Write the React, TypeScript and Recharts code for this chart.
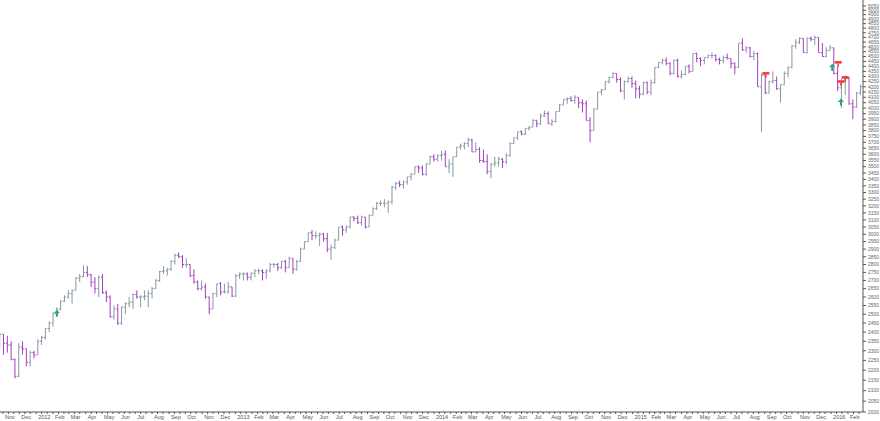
import React from "react";
import { ComposedChart, Bar, Scatter, XAxis, YAxis } from "recharts";

const day = (y: number, m: number, d: number) => Date.UTC(y, m - 1, d) / 86400000;

// weekly bars, first one is the week starting Mon 24 Oct 2011
const FIRST_WEEK = day(2011, 10, 24);
const FIRST_OPEN = 2320;

const highs = [
  // 2011
  2400, 2370, 2380, 2350, 2260, 2340, 2350, 2310, 2300, 2300,
  // 2012
  2360, 2380, 2420, 2460, 2510, 2540, 2580, 2610, 2640, 2645, 2720, 2740, 2795, 2790, 2740, 2720, 2730, 2740,
  2640, 2610, 2550, 2560, 2545, 2570, 2600, 2620, 2640, 2610, 2640, 2640, 2660, 2710, 2760, 2790, 2780, 2830,
  2870, 2878, 2860, 2840, 2800, 2770, 2700, 2700, 2680, 2600, 2625, 2680, 2690, 2680, 2690, 2660,
  // 2013
  2740, 2750, 2750, 2750, 2750, 2770, 2775, 2770, 2770, 2810, 2810, 2810, 2820, 2830, 2850, 2830, 2830, 2910,
  2950, 3010, 3030, 3020, 3010, 3010, 3010, 2930, 2970, 3050, 3060, 3060, 3120, 3125, 3130, 3130, 3120, 3140,
  3190, 3230, 3240, 3250, 3240, 3350, 3380, 3390, 3390, 3420, 3450, 3500, 3510, 3510, 3530, 3590,
  // 2014
  3600, 3600, 3630, 3630, 3560, 3580, 3660, 3690, 3700, 3738, 3730, 3700, 3660, 3640, 3600, 3530, 3580, 3580,
  3570, 3610, 3700, 3740, 3790, 3800, 3820, 3840, 3900, 3890, 3950, 3980, 3970, 3900, 3970, 4040, 4080, 4100,
  4110, 4120, 4100, 4080, 4070, 3920, 4000, 4150, 4180, 4250, 4300, 4340, 4330, 4290, 4260, 4300,
  // 2015
  4300, 4260, 4210, 4250, 4250, 4270, 4390, 4440, 4480, 4490, 4440, 4470, 4480, 4360, 4400, 4420, 4530, 4540,
  4490, 4490, 4520, 4540, 4520, 4490, 4510, 4530, 4470, 4440, 4640, 4690, 4610, 4600, 4560, 4540, 4330, 4300,
  4260, 4350, 4300, 4220, 4350, 4400, 4620, 4680, 4700, 4680, 4700, 4710, 4720, 4700, 4640, 4600, 4620,
  // 2016
  4560, 4400, 4280, 4310, 4290, 4080, 4150, 4220,
];

const lows = [
  // 2011
  2310, 2280, 2290, 2250, 2160, 2165, 2280, 2220, 2220, 2260,
  // 2012
  2290, 2330, 2360, 2400, 2430, 2490, 2520, 2570, 2590, 2560, 2640, 2690, 2720, 2720, 2660, 2620, 2600, 2620,
  2570, 2480, 2470, 2440, 2440, 2500, 2540, 2530, 2590, 2540, 2580, 2540, 2590, 2650, 2690, 2740, 2730, 2760,
  2800, 2840, 2780, 2780, 2720, 2680, 2640, 2640, 2590, 2500, 2530, 2600, 2610, 2620, 2620, 2600,
  // 2013
  2600, 2710, 2700, 2700, 2700, 2720, 2740, 2700, 2710, 2750, 2780, 2760, 2770, 2750, 2780, 2740, 2760, 2820,
  2900, 2950, 2960, 2970, 2920, 2950, 2880, 2830, 2900, 2960, 2990, 3010, 3040, 3090, 3070, 3060, 3040, 3060,
  3130, 3170, 3200, 3190, 3150, 3210, 3320, 3340, 3330, 3360, 3390, 3440, 3450, 3430, 3430, 3520,
  // 2014
  3540, 3540, 3550, 3500, 3450, 3420, 3580, 3640, 3640, 3660, 3620, 3620, 3530, 3530, 3440, 3410, 3500, 3500,
  3490, 3520, 3580, 3690, 3720, 3760, 3760, 3800, 3830, 3830, 3850, 3920, 3860, 3840, 3870, 3970, 4040, 4040,
  4060, 4040, 4000, 3960, 3890, 3700, 3820, 3990, 4120, 4170, 4230, 4280, 4240, 4150, 4080, 4240,
  // 2015
  4190, 4090, 4090, 4120, 4130, 4120, 4230, 4380, 4420, 4410, 4310, 4320, 4290, 4280, 4310, 4330, 4370, 4440,
  4400, 4420, 4480, 4480, 4450, 4420, 4430, 4470, 4380, 4320, 4400, 4560, 4540, 4490, 4460, 4200, 3787, 4130,
  4140, 4230, 4170, 4050, 4220, 4290, 4380, 4580, 4630, 4540, 4530, 4660, 4620, 4540, 4500, 4490, 4560,
  // 2016
  4320, 4160, 4000, 4120, 4030, 3900, 4000, 4120,
];

const closes = [
  // 2011
  2388, 2340, 2330, 2255, 2170, 2320, 2310, 2240, 2290, 2278,
  // 2012
  2350, 2370, 2420, 2450, 2505, 2530, 2575, 2600, 2620, 2640, 2715, 2725, 2750, 2735, 2690, 2650, 2720, 2625,
  2600, 2485, 2530, 2450, 2540, 2560, 2570, 2615, 2600, 2600, 2605, 2620, 2650, 2700, 2755, 2760, 2770, 2820,
  2860, 2850, 2800, 2800, 2730, 2690, 2650, 2660, 2600, 2530, 2620, 2680, 2630, 2630, 2660, 2605,
  // 2013
  2730, 2740, 2740, 2720, 2745, 2760, 2760, 2750, 2760, 2800, 2800, 2780, 2820, 2780, 2840, 2770, 2820, 2900,
  2950, 3010, 2990, 2990, 3000, 2970, 2900, 2910, 2960, 3050, 3030, 3050, 3120, 3110, 3080, 3120, 3050, 3130,
  3180, 3220, 3220, 3220, 3230, 3340, 3370, 3360, 3380, 3420, 3440, 3500, 3490, 3440, 3520, 3580,
  // 2014
  3560, 3590, 3600, 3500, 3520, 3580, 3660, 3670, 3690, 3720, 3620, 3640, 3550, 3540, 3460, 3520, 3530, 3560,
  3540, 3590, 3690, 3740, 3790, 3770, 3820, 3830, 3890, 3860, 3930, 3950, 3860, 3880, 3970, 4030, 4080, 4090,
  4070, 4100, 4050, 4040, 3890, 3800, 3990, 4150, 4170, 4250, 4290, 4330, 4270, 4160, 4250, 4280,
  // 2015
  4230, 4180, 4130, 4240, 4150, 4240, 4390, 4440, 4460, 4430, 4330, 4460, 4300, 4320, 4400, 4350, 4530, 4480,
  4460, 4490, 4510, 4510, 4470, 4460, 4490, 4480, 4430, 4390, 4640, 4570, 4590, 4500, 4530, 4200, 4310, 4140,
  4250, 4260, 4180, 4220, 4330, 4390, 4610, 4650, 4690, 4540, 4690, 4680, 4700, 4540, 4500, 4560, 4590,
  // 2016
  4330, 4190, 4250, 4280, 4040, 4010, 4140, 4200,
];

const buySignals = [
  { t: day(2012, 2, 8), v: 2506 },
  { t: day(2016, 1, 3), v: 4390 },
  { t: day(2016, 1, 19), v: 4056 },
];
const sellSignals = [
  { t: day(2015, 9, 3), v: 4323 },
  { t: day(2016, 1, 14), v: 4433 },
  { t: day(2016, 1, 19), v: 4243 },
  { t: day(2016, 1, 27), v: 4283 },
];

const MONTH_NAMES = ["Jan", "Feb", "Mar", "Apr", "May", "Jun", "Jul", "Aug", "Sep", "Oct", "Nov", "Dec"];

const X_MIN = day(2011, 10, 26) + 0.5;
const X_MAX = day(2016, 2, 28) + 0.6;

const monthLabels = new Map<number, string>();
const xTicks: number[] = [];
for (let i = 0; i < 52; i++) {
  const y = 2011 + Math.floor((10 + i) / 12);
  const m = (10 + i) % 12;
  const t = Date.UTC(y, m, 1) / 86400000;
  monthLabels.set(t, m === 0 ? String(y) : MONTH_NAMES[m]);
  xTicks.push(t, Date.UTC(y, m, 11) / 86400000, Date.UTC(y, m, 21) / 86400000);
}

const yTicks: number[] = [];
for (let v = 2000; v <= 5050; v += 50) yTicks.push(v);

const UP = "#8797a3";
const DOWN = "#a53ebf";

const rows = closes.map((c, i) => {
  const open = i === 0 ? FIRST_OPEN : closes[i - 1];
  const high = Math.max(highs[i], open, c);
  const low = Math.min(lows[i], open, c);
  return { t: FIRST_WEEK + 7 * i + 2, open, high, low, close: c, range: [low, high] };
});

const OhlcShape = (props: any) => {
  const { x, y, width, height, payload } = props;
  if (!payload || y == null || height == null) return null;
  const top = Math.min(y, y + height);
  const span = Math.abs(height);
  const lnH = Math.log(payload.high);
  const lnL = Math.log(payload.low);
  // log scale: place open/close ticks inside the bar's own pixel span
  const toPx = (v: number) => top + (span * (lnH - Math.log(v))) / (lnH - lnL || 1);
  const cx = x + width / 2;
  const color = payload.close >= payload.open ? UP : DOWN;
  const o = toPx(payload.open);
  const c = toPx(payload.close);
  return (
    <g stroke={color} strokeWidth={1}>
      <line x1={cx} x2={cx} y1={top} y2={top + span} />
      <line x1={cx - 1.5} x2={cx} y1={o} y2={o} />
      <line x1={cx} x2={cx + 1.5} y1={c} y2={c} />
    </g>
  );
};

const SellMark = ({ cx, cy }: any) => (
  <g fill="#f23535">
    <rect x={cx - 3.5} y={cy - 2} width={7} height={2.5} />
    <rect x={cx - 0.75} y={cy + 0.5} width={1.5} height={3} />
  </g>
);

const BuyMark = ({ cx, cy }: any) => (
  <g fill="#25a36a">
    <polygon points={`${cx},${cy - 3.5} ${cx + 3},${cy} ${cx - 3},${cy}`} />
    <rect x={cx - 1} y={cy} width={2} height={3.5} />
  </g>
);

const MonthTick = ({ x, y, payload }: any) => {
  const label = monthLabels.get(payload.value);
  if (!label) return null;
  return (
    <text x={x + 2} y={y} dy="0.71em" textAnchor="start" fontSize={5.5} fill="#555" fontFamily="Liberation Sans">
      {label}
    </text>
  );
};

export default function App() {
  return (
    <div style={{ position: "absolute", left: 0, top: 0, width: 880, height: 421, background: "#fff" }}>
      <ComposedChart width={880} height={421} data={rows} margin={{ top: 0, right: 0, bottom: 0, left: 0 }}>
        <XAxis
          dataKey="t"
          type="number"
          domain={[X_MIN, X_MAX]}
          allowDataOverflow
          ticks={xTicks}
          interval={0}
          tick={<MonthTick />}
          tickSize={2}
          tickMargin={1}
          height={9}
          axisLine={{ stroke: "#555" }}
          tickLine={{ stroke: "#555" }}
        />
        <YAxis
          orientation="right"
          scale="log"
          domain={[2000, 5119]}
          allowDataOverflow
          ticks={yTicks}
          interval={0}
          width={17}
          tickSize={3}
          tickMargin={2}
          tick={{ fontSize: 5, fill: "#666", fontFamily: "Liberation Sans" }}
          axisLine={{ stroke: "#555" }}
          tickLine={{ stroke: "#555" }}
        />
        <Bar dataKey="range" barSize={3} shape={OhlcShape} isAnimationActive={false} />
        <Scatter data={sellSignals} dataKey="v" shape={SellMark} isAnimationActive={false} />
        <Scatter data={buySignals} dataKey="v" shape={BuyMark} isAnimationActive={false} />
      </ComposedChart>
    </div>
  );
}
